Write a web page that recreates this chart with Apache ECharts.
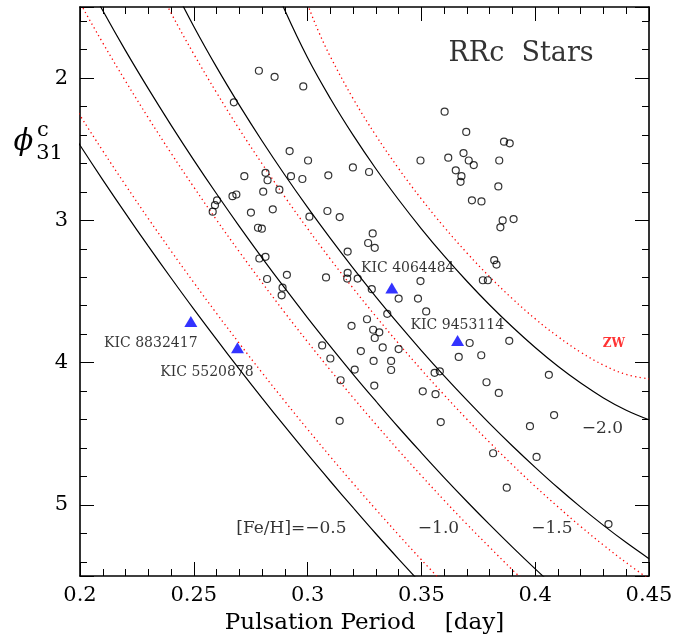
<!DOCTYPE html>
<html>
<head>
<meta charset="utf-8">
<script src="https://cdn.jsdelivr.net/npm/echarts@6/dist/echarts.min.js"></script>
<style>html,body{margin:0;padding:0;background:#fff}#c{width:689px;height:642px}</style>
</head>
<body>
<div id="c"></div>
<script>
// ---- data ----
const xTicks = [0.2, 0.25, 0.3, 0.35, 0.4, 0.45];
const yTicks = [2, 3, 4, 5];

// open circles: [period (day), phi31c]
const rrcStars = [
[0.2786,1.948],[0.2855,1.991],[0.2981,2.058],[0.2676,2.170],[0.3602,2.236],[0.3697,2.378],
[0.3863,2.447],[0.3888,2.458],[0.2921,2.513],[0.3002,2.579],[0.3496,2.579],[0.3618,2.559],
[0.3685,2.527],[0.3708,2.579],[0.3730,2.611],[0.3842,2.579],[0.3199,2.628],[0.3270,2.660],
[0.3651,2.648],[0.3676,2.689],[0.3672,2.729],[0.2722,2.689],[0.2815,2.666],[0.2927,2.689],
[0.2977,2.709],[0.3091,2.683],[0.2824,2.718],[0.2805,2.798],[0.2876,2.784],[0.2670,2.830],
[0.2687,2.818],[0.2602,2.859],[0.2593,2.893],[0.2583,2.939],[0.2751,2.945],[0.2847,2.922],
[0.3838,2.761],[0.3722,2.859],[0.3764,2.867],[0.3087,2.934],[0.3008,2.974],[0.3141,2.977],
[0.3857,3.000],[0.3905,2.991],[0.3847,3.049],[0.2782,3.052],[0.2799,3.058],[0.3286,3.092],
[0.3266,3.159],[0.3295,3.193],[0.3176,3.219],[0.2788,3.268],[0.2815,3.256],[0.3820,3.280],
[0.3830,3.311],[0.2909,3.383],[0.3176,3.369],[0.3081,3.401],[0.3174,3.409],[0.3220,3.409],
[0.2822,3.412],[0.3496,3.427],[0.3770,3.421],[0.3792,3.421],[0.2890,3.473],[0.2886,3.527],
[0.3282,3.484],[0.3400,3.550],[0.3485,3.550],[0.3521,3.640],[0.3350,3.657],[0.3261,3.695],
[0.3193,3.741],[0.3288,3.769],[0.3315,3.787],[0.3295,3.827],[0.3712,3.862],[0.3886,3.847],
[0.3330,3.893],[0.3400,3.905],[0.3064,3.879],[0.3234,3.919],[0.3664,3.960],[0.3763,3.948],
[0.3100,3.971],[0.3290,3.988],[0.3367,3.988],[0.3207,4.049],[0.3367,4.052],[0.3558,4.072],
[0.3581,4.061],[0.4060,4.086],[0.3145,4.124],[0.3293,4.161],[0.3786,4.138],[0.3506,4.202],
[0.3562,4.222],[0.3840,4.213],[0.4083,4.369],[0.3141,4.409],[0.3585,4.418],[0.3977,4.447],
[0.3815,4.637],[0.4006,4.663],[0.3875,4.879],[0.4322,5.135]
];

// Kepler stars (blue triangles)
const kicNames = ['KIC 8832417','KIC 5520878','KIC 4064484','KIC 9453114'];
const kicStars = [[0.2487,3.711],[0.2692,3.895],[0.3370,3.476],[0.3659,3.845]];
const kicLabelPos = [[0.2311,3.867],[0.2558,4.069],[0.3440,3.340],[0.3658,3.741]];

// solid black iso-metallicity curves
const curveM05 = [[0.19,2.222],[0.20,2.472],[0.21,2.715],[0.22,2.951],[0.23,3.181],[0.24,3.405],[0.25,3.624],[0.26,3.837],[0.27,4.046],[0.28,4.250],[0.29,4.449],[0.30,4.644],[0.31,4.834],[0.32,5.020],[0.33,5.203],[0.34,5.381],[0.35,5.555]];
const curveM10 = [[0.20,1.228],[0.21,1.525],[0.22,1.807],[0.23,2.074],[0.24,2.330],[0.25,2.576],[0.26,2.813],[0.27,3.042],[0.28,3.263],[0.29,3.477],[0.30,3.685],[0.31,3.886],[0.32,4.082],[0.33,4.271],[0.34,4.456],[0.35,4.634],[0.36,4.808],[0.37,4.976],[0.38,5.139],[0.39,5.297],[0.40,5.450],[0.41,5.598]];
const curveM15 = [[0.24,1.327],[0.25,1.637],[0.26,1.923],[0.27,2.190],[0.28,2.442],[0.29,2.681],[0.30,2.909],[0.31,3.127],[0.32,3.336],[0.33,3.537],[0.34,3.730],[0.35,3.915],[0.36,4.093],[0.37,4.264],[0.38,4.429],[0.39,4.586],[0.40,4.736],[0.41,4.880],[0.42,5.016],[0.43,5.144],[0.44,5.265],[0.45,5.378]];
const curveM20 = [[0.285,1.325],[0.29,1.523],[0.30,1.857],[0.31,2.143],[0.32,2.401],[0.33,2.637],[0.34,2.855],[0.35,3.059],[0.36,3.250],[0.37,3.428],[0.38,3.595],[0.39,3.750],[0.40,3.894],[0.41,4.026],[0.42,4.144],[0.43,4.248],[0.44,4.335],[0.45,4.402]];

// red dotted ZW curves
const zwM05 = [[0.19,2.005],[0.20,2.262],[0.21,2.511],[0.22,2.752],[0.23,2.987],[0.24,3.215],[0.25,3.437],[0.26,3.654],[0.27,3.865],[0.28,4.071],[0.29,4.272],[0.30,4.469],[0.31,4.661],[0.32,4.849],[0.33,5.032],[0.34,5.211],[0.35,5.386],[0.36,5.556]];
const zwM10 = [[0.19,1.172],[0.20,1.470],[0.21,1.752],[0.22,2.021],[0.23,2.279],[0.24,2.527],[0.25,2.766],[0.26,2.997],[0.27,3.221],[0.28,3.438],[0.29,3.649],[0.30,3.854],[0.31,4.053],[0.32,4.246],[0.33,4.434],[0.34,4.617],[0.35,4.795],[0.36,4.968],[0.37,5.136],[0.38,5.298],[0.39,5.457],[0.40,5.610]];
const zwM15 = [[0.23,1.228],[0.24,1.542],[0.25,1.831],[0.26,2.102],[0.27,2.359],[0.28,2.602],[0.29,2.835],[0.30,3.058],[0.31,3.272],[0.32,3.477],[0.33,3.675],[0.34,3.866],[0.35,4.050],[0.36,4.227],[0.37,4.398],[0.38,4.561],[0.39,4.719],[0.40,4.870],[0.41,5.014],[0.42,5.152],[0.43,5.283],[0.44,5.406],[0.45,5.522]];
const zwM20 = [[0.298,1.390],[0.30,1.482],[0.305,1.679],[0.31,1.849],[0.32,2.144],[0.33,2.403],[0.34,2.636],[0.35,2.850],[0.36,3.047],[0.37,3.229],[0.38,3.397],[0.39,3.551],[0.40,3.692],[0.41,3.817],[0.42,3.927],[0.43,4.017],[0.44,4.083],[0.45,4.114]];

// curve labels
const fehLabelText = ['[Fe/H]=\u22120.5', '\u22121.0', '\u22121.5', '\u22122.0'];
const fehLabelPos = [[0.2929,5.164],[0.3575,5.164],[0.4073,5.164],[0.4295,4.464]];
const zwLabelText = ['ZW'];
const zwLabelPos = [[0.4346,3.867]];
const titleText = ['RRc  Stars'];
const titlePos = [[0.3938,1.830]];

// ---- chart ----
const FONT = 'DejaVu Serif';
const chart = echarts.init(document.getElementById('c'), null, {renderer: 'canvas'});

function axisCommon() {
  return {
    axisLine: {show: true, onZero: false, lineStyle: {color: '#000', width: 1.6}},
    axisTick: {show: true, inside: true, length: 14, lineStyle: {color: '#000', width: 1}},
    minorTick: {show: true, splitNumber: 5, length: 7, lineStyle: {color: '#000', width: 1}},
    splitLine: {show: false},
    minorSplitLine: {show: false}
  };
}
const xBase = {type: 'value', min: xTicks[0], max: xTicks[xTicks.length - 1], interval: 0.05};
const yBase = {type: 'value', inverse: true, min: 1.5, max: 5.5, splitNumber: 4};

function lineSeries(data, black) {
  return {
    type: 'line', data: data, smooth: 0.4, showSymbol: false, symbol: 'none', silent: true,
    clip: true, z: 2,
    lineStyle: black ? {color: '#000', width: 1.2, type: 'solid'}
                     : {color: '#ff0000', width: 1.3, type: [1.3, 3.2]}
  };
}
function textSeries(pos, texts, style) {
  return {
    type: 'scatter', symbolSize: 1, silent: true, z: 10,
    itemStyle: {color: 'rgba(0,0,0,0)'},
    data: pos.map((p, i) => ({value: p, name: texts[i]})),
    label: Object.assign({show: true, position: 'inside', formatter: '{b}', fontFamily: FONT,
      textBorderWidth: 0}, style)
  };
}

const option = {
  animation: false,
  backgroundColor: '#fff',
  grid: {left: 80, top: 7, width: 569, height: 569, containLabel: false, outerBoundsMode: 'none'},
  xAxis: [
    Object.assign({}, xBase, axisCommon(), {
      position: 'bottom',
      axisLabel: {show: true, margin: 9, color: '#000', fontFamily: FONT, fontSize: 21,
        formatter: v => String(parseFloat(v.toFixed(3)))},
      name: 'Pulsation Period    [day]', nameLocation: 'middle', nameGap: 36,
      nameTextStyle: {color: '#000', fontFamily: FONT, fontSize: 23}
    }),
    Object.assign({}, xBase, axisCommon(), {position: 'top', axisLabel: {show: false}})
  ],
  yAxis: [
    Object.assign({}, yBase, axisCommon(), {
      position: 'left',
      axisLabel: {show: true, margin: 12, color: '#000', fontFamily: FONT, fontSize: 21,
        formatter: v => (yTicks.indexOf(Math.round(v * 1000) / 1000) >= 0 ? String(Math.round(v)) : '')}
    }),
    Object.assign({}, yBase, axisCommon(), {position: 'right', axisLabel: {show: false}})
  ],
  graphic: [
    {type: 'text', x: 23.5, y: 142, silent: true, style: {text: '\u03D5', align: 'center', verticalAlign: 'middle', font: 'italic 29px "DejaVu Serif"', fill: '#000'}},
    {type: 'text', x: 43, y: 131, silent: true, style: {text: 'c', align: 'center', verticalAlign: 'middle', font: '21px "DejaVu Serif"', fill: '#000'}},
    {type: 'text', x: 49.5, y: 153.5, silent: true, style: {text: '31', align: 'center', verticalAlign: 'middle', font: '21px "DejaVu Serif"', fill: '#000'}}
  ],
  series: [
    lineSeries(zwM05, false), lineSeries(zwM10, false), lineSeries(zwM15, false), lineSeries(zwM20, false),
    lineSeries(curveM05, true), lineSeries(curveM10, true), lineSeries(curveM15, true), lineSeries(curveM20, true),
    {
      type: 'scatter', data: rrcStars, symbol: 'circle', symbolSize: 7, silent: true, z: 5,
      itemStyle: {color: 'rgba(255,255,255,0)', borderColor: '#000', borderWidth: 1.2}
    },
    {
      type: 'scatter', data: kicStars, symbol: 'triangle', symbolSize: [13, 11], silent: true, z: 6,
      itemStyle: {color: '#0000ff'}
    },
    textSeries(kicLabelPos, kicNames, {fontSize: 14, color: '#000'}),
    textSeries(fehLabelPos, fehLabelText, {fontSize: 17, color: '#000'}),
    textSeries(zwLabelPos, zwLabelText, {fontSize: 12, color: '#ff0000', fontWeight: 'bold', fontFamily: 'DejaVu Serif'}),
    textSeries(titlePos, titleText, {fontSize: 27, color: '#000'})
  ]
};
chart.setOption(option);
</script>
</body>
</html>
